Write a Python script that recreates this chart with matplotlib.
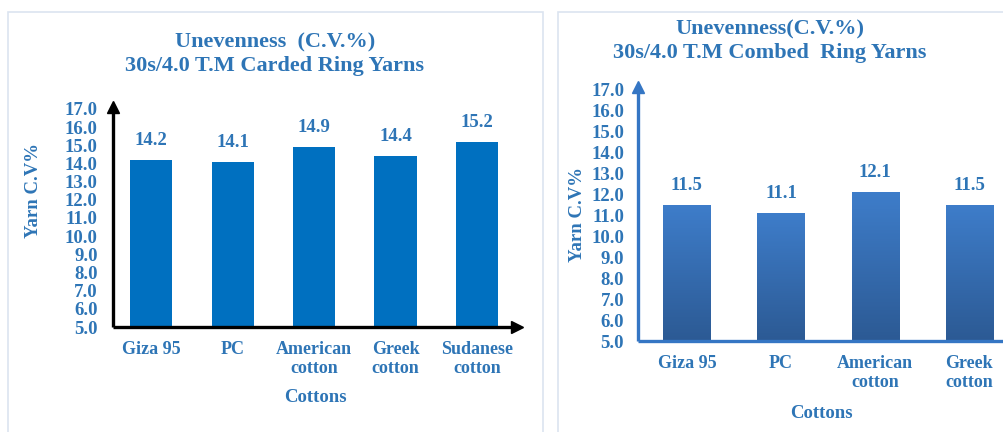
import numpy as np
import matplotlib
matplotlib.use("Agg")
import matplotlib.pyplot as plt
from matplotlib.colors import LinearSegmentedColormap
from matplotlib.patches import Rectangle

carded_names = ["Giza 95", "PC", "American\ncotton", "Greek\ncotton", "Sudanese\ncotton"]
carded_cv = [14.2, 14.1, 14.9, 14.4, 15.2]

combed_names = ["Giza 95", "PC", "American\ncotton", "Greek\ncotton"]
combed_cv = [11.5, 11.1, 12.1, 11.5]

yticks = np.arange(5, 17.5, 1.0)

BLUE = "#2E75B6"
BAR_LEFT = "#0070C0"
FONT = "Liberation Serif"
FS = 13.5

plt.rcParams["font.family"] = FONT
plt.rcParams["font.weight"] = "bold"

fig = plt.figure(figsize=(10.04, 4.32), dpi=100)
W, H = 1004, 432


def fx(px):
    return px / W


def fy(py):
    return 1 - py / H


# panel frames
fig.patches.append(Rectangle((fx(8), fy(440)), fx(543 - 8), fy(12) - fy(440),
                             transform=fig.transFigure, fill=False,
                             edgecolor="#DCE4F0", lw=1.2))
fig.patches.append(Rectangle((fx(558), fy(440)), fx(460), fy(12) - fy(440),
                             transform=fig.transFigure, fill=False,
                             edgecolor="#DCE4F0", lw=1.2))


def setup(ax, names, spine_color, ypad):
    ax.set_ylim(5, 17.1)
    ax.set_yticks(yticks)
    ax.set_yticklabels([f"{v:.1f}" for v in yticks], color=BLUE,
                       fontsize=FS, fontweight="bold")
    ax.set_xticks(range(len(names)))
    ax.set_xticklabels(names, color=BLUE, fontsize=FS - 0.5, fontweight="bold",
                       linespacing=1.15)
    ax.tick_params(axis="y", length=0, pad=ypad)
    ax.tick_params(axis="x", length=0, pad=10)
    for s in ["top", "right"]:
        ax.spines[s].set_visible(False)
    for s in ["left", "bottom"]:
        ax.spines[s].set_color(spine_color)
        ax.spines[s].set_linewidth(2.4)
        ax.spines[s].set_capstyle("butt")
    ax.patch.set_alpha(0)


# left chart: carded
ax1 = fig.add_axes([fx(113), fy(327), fx(517 - 113), fy(107) - fy(327)])
x1 = np.arange(len(carded_cv))
bars1 = ax1.bar(x1, np.array(carded_cv) - 5, bottom=5, width=0.52,
                color=BAR_LEFT, zorder=2)
ax1.set_xlim(-0.47, 4.49)
setup(ax1, carded_names, "black", 11)
ax1.plot(1, 5, ">", color="black", ms=8, transform=ax1.get_yaxis_transform(),
         clip_on=False)
ax1.plot(-0.47, 1, "^", color="black", ms=8, transform=ax1.get_xaxis_transform(),
         clip_on=False)
for xi, v in zip(x1, carded_cv):
    ax1.annotate(f"{v:.1f}", (xi, v), xytext=(0, 14), textcoords="offset points",
                 ha="center", va="center", color=BLUE, fontsize=FS,
                 fontweight="bold")
ax1.set_ylabel("Yarn C.V%", color=BLUE, fontsize=FS, fontweight="bold")
ax1.yaxis.set_label_coords(-0.176, 0.62)
ax1.set_xlabel("Cottons", color=BLUE, fontsize=FS, fontweight="bold",
               labelpad=9)
fig.text(fx(275), fy(42), "Unevenness  (C.V.%)", ha="center", va="center",
         color=BLUE, fontsize=16, fontweight="bold")
fig.text(fx(275), fy(66), "30s/4.0 T.M Carded Ring Yarns", ha="center",
         va="center", color=BLUE, fontsize=16, fontweight="bold")

# right chart: combed
ax2 = fig.add_axes([fx(638), fy(341), fx(1004 - 638), fy(87) - fy(341)])
x2 = np.arange(len(combed_cv))
setup(ax2, combed_names, "#3576C4", 10)
grad = LinearSegmentedColormap.from_list("g", ["#2C5A94", "#3E7DCA"])
bars2 = ax2.bar(x2, np.array(combed_cv) - 5, bottom=5, width=0.5,
                color="#3670B8", zorder=2)
for b in bars2:
    x0, y0 = b.get_x(), b.get_y()
    im = ax2.imshow(np.linspace(0, 1, 100).reshape(-1, 1), cmap=grad,
                    origin="lower", aspect="auto", zorder=2.1,
                    extent=[x0, x0 + b.get_width(), y0, y0 + b.get_height()])
    im.set_clip_path(b)
ax2.set_xlim(-0.52, 3.37)
ax2.set_ylim(5, 17.1)
ax2.plot(-0.52, 1, "^", color="#3576C4", ms=8,
         transform=ax2.get_xaxis_transform(), clip_on=False)
for xi, v in zip(x2, combed_cv):
    ax2.annotate(f"{v:.1f}", (xi, v), xytext=(0, 14), textcoords="offset points",
                 ha="center", va="center", color=BLUE, fontsize=FS,
                 fontweight="bold")
ax2.set_ylabel("Yarn C.V%", color=BLUE, fontsize=FS, fontweight="bold")
ax2.yaxis.set_label_coords(-0.142, 0.5)
ax2.set_xlabel("Cottons", color=BLUE, fontsize=FS, fontweight="bold",
               labelpad=10)
fig.text(fx(770), fy(29), "Unevenness(C.V.%)", ha="center", va="center",
         color=BLUE, fontsize=16, fontweight="bold")
fig.text(fx(770), fy(53), "30s/4.0 T.M Combed  Ring Yarns", ha="center",
         va="center", color=BLUE, fontsize=16, fontweight="bold")

fig.savefig("out.png", dpi=100)
